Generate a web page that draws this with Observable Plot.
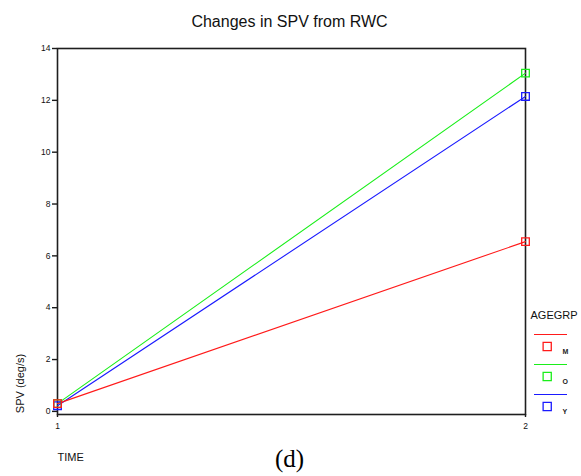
<!DOCTYPE html>
<html>
<head>
<meta charset="utf-8">
<script src="https://cdn.jsdelivr.net/npm/d3@7"></script>
<script src="https://cdn.jsdelivr.net/npm/@observablehq/plot@0.6"></script>
<style>
  body { margin: 0; background: #fff; }
  #wrap { position: relative; width: 581px; height: 476px; overflow: hidden; }
  #wrap svg { position: absolute; }
</style>
</head>
<body>
<div id="wrap"></div>
<script>
const groups = ["M", "O", "Y"];
const colors = ["#ff1a1a", "#1aee1a", "#1a1aff"];
const times = [1, 2];
const spvM = [0.30, 6.55];
const spvO = [0.30, 13.05];
const spvY = [0.22, 12.15];
const yTicks = [0, 2, 4, 6, 8, 10, 12, 14];
const titleText = "Changes in SPV from RWC";
const yLabel = "SPV (deg/s)";
const xLabel = "TIME";
const panelLabel = "(d)";
const legendTitle = "AGEGRP";

const series = { M: spvM, O: spvO, Y: spvY };
// draw order: Y, O, M (M on top)
const data = ["Y", "O", "M"].flatMap(g => times.map((t, i) => ({ group: g, time: t, spv: series[g][i] })));

const font = "Liberation Sans, Arial, sans-serif";
const color = { domain: groups, range: colors };

const main = Plot.plot({
  width: 581,
  height: 476,
  marginLeft: 57,
  marginRight: 56,
  marginTop: 48,
  marginBottom: 62,
  style: { fontFamily: font, background: "transparent", overflow: "visible" },
  x: { domain: [1, 2], ticks: times, tickFormat: d => String(d), tickSize: 3, tickPadding: 3, label: null },
  y: { domain: [-0.12, 14], ticks: yTicks, tickSize: 5, tickPadding: 2, label: null },
  color,
  marks: [
    Plot.axisY({ ticks: yTicks, tickSize: 5, tickPadding: 2, fontSize: 8.5, stroke: "#1a1a1a", strokeWidth: 1.4, fill: "#111", label: null }),
    Plot.axisX({ ticks: times, tickSize: 3, tickPadding: 5, fontSize: 8.5, stroke: "#1a1a1a", strokeWidth: 1.4, fill: "#111", label: null, tickFormat: d => String(d) }),
    Plot.frame({ stroke: "#1e1e1e", strokeWidth: 1.6 }),
    Plot.line(data, { x: "time", y: "spv", z: "group", stroke: "group", strokeWidth: 1.1 }),
    Plot.dot(data, { x: "time", y: "spv", stroke: "group", symbol: "square", r: 4.3, strokeWidth: 1.3, fill: "none" }),
    Plot.text([titleText], { text: d => d, frameAnchor: "top", lineAnchor: "middle", dy: -27, dx: -2, fontSize: 16, fill: "#111" }),
    Plot.text([yLabel], { text: d => d, frameAnchor: "bottom-left", lineAnchor: "middle", textAnchor: "middle", rotate: -90, dx: -37, dy: -31, fontSize: 11, fill: "#111" }),
    Plot.text([xLabel], { text: d => d, frameAnchor: "bottom-left", lineAnchor: "middle", textAnchor: "start", dx: 0, dy: 43, fontSize: 11, fill: "#111" }),
    Plot.text([panelLabel], { text: d => d, frameAnchor: "bottom", lineAnchor: "middle", dx: -2, dy: 44, fontSize: 25, fontFamily: "Liberation Serif, Times New Roman, serif", fill: "#000" })
  ]
});
main.style.left = "0px";
main.style.top = "0px";

const legend = Plot.plot({
  width: 54,
  height: 125,
  marginLeft: 7,
  marginRight: 14,
  marginTop: 45.7,
  marginBottom: 19,
  style: { fontFamily: font, background: "transparent", overflow: "visible" },
  x: { domain: [0, 1], axis: null },
  y: { type: "point", domain: groups, padding: 0, axis: null },
  color,
  marks: [
    Plot.ruleY(groups, { y: d => d, stroke: d => d, dy: -12, strokeWidth: 1.2 }),
    Plot.dot(groups, { y: d => d, frameAnchor: "left", dx: 12.7, stroke: d => d, symbol: "square", r: 4.6, strokeWidth: 1.3, fill: "none" }),
    Plot.text(groups, { y: d => d, text: d => d, frameAnchor: "right", textAnchor: "start", lineAnchor: "middle", dx: -5, dy: 5, fontSize: 7, fontWeight: "bold", fill: "#222" }),
    Plot.text([legendTitle], { text: d => d, frameAnchor: "top-left", textAnchor: "start", lineAnchor: "middle", dx: -4, dy: -30.7, fontSize: 11, fill: "#111" })
  ]
});
legend.style.left = "527px";
legend.style.top = "300px";

const wrap = document.getElementById("wrap");
wrap.appendChild(main);
wrap.appendChild(legend);
</script>
</body>
</html>
